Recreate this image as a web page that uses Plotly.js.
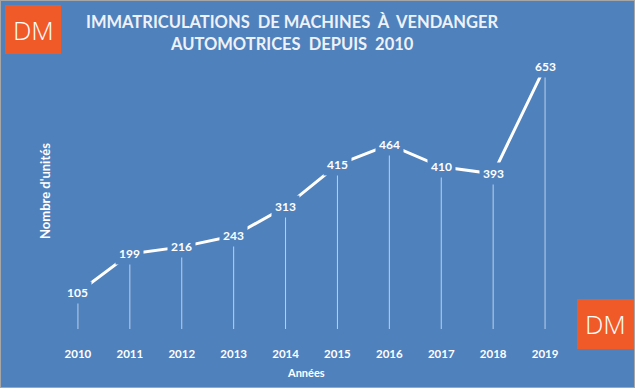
<!DOCTYPE html>
<html><head><meta charset="utf-8">
<script src="https://cdn.plot.ly/plotly-3.0.1.min.js"></script>
<style>html,body{margin:0;padding:0;background:#4f81bd;}#c{width:635px;height:388px;}
#b{position:absolute;left:0;top:0;width:633px;height:386px;border:1px solid #a6a6a6;pointer-events:none;}</style>
</head><body><div id="c"></div><div id="b"></div>
<script>
const years = [2010, 2011, 2012, 2013, 2014, 2015, 2016, 2017, 2018, 2019];
const units = [105, 199, 216, 243, 313, 415, 464, 410, 393, 653];
const titleLines = ["IMMATRICULATIONS  DE MACHINES  À  VENDANGER", "AUTOMOTRICES  DEPUIS  2010"];
const xTitle = "Années";
const yTitle = "Nombre d'unités";
const bg = "#4f81bd";
const fnt = "Lato, 'Noto Sans', sans-serif";

const L = 52, R = 64, T = 55, B = 59, W = 635, H = 388;
const pw = W - L - R, ph = H - T - B;
function px(x) { return (x - L) / pw; }
function py(y) { return (H - B - y) / ph; }

const dx = [], dy = [];
years.forEach((y, i) => { dx.push(y, y, null); dy.push(0, units[i], null); });

const traces = [
  {x: dx, y: dy, mode: 'lines', line: {color: 'rgba(225,235,248,0.75)', width: 1}, hoverinfo: 'skip'},
  {x: years, y: units, mode: 'lines', line: {color: '#ffffff', width: 3}}
];

const annotations = years.map((y, i) => ({
  x: y, y: units[i], xref: 'x', yref: 'y', text: '<b>' + units[i] + '</b>', showarrow: false,
  xanchor: 'center', yanchor: 'middle',
  font: {family: fnt, size: 12, color: '#ffffff'}, bgcolor: bg, borderpad: 3
}));
function note(x, y, text, size, color, extra) {
  return Object.assign({xref: 'paper', yref: 'paper', x: px(x), y: py(y), xanchor: 'center', yanchor: 'middle',
    showarrow: false, text: text, font: {family: fnt, size: size, color: color}}, extra || {});
}
annotations.push(
  note(292, 22, '<b>' + titleLines[0] + '</b>', 16.5, '#eef2f8'),
  note(292, 44, '<b>' + titleLines[1] + '</b>', 16.5, '#eef2f8'),
  note(306, 372, '<b>' + xTitle + '</b>', 11, '#ffffff'),
  note(45, 191, '<b>' + yTitle + '</b>', 13, '#ffffff', {textangle: -90}),
  note(33, 30, 'DM', 26, '#ffffff', {font: {family: "'Open Sans', sans-serif", size: 26, color: '#ffffff', weight: 300}}),
  note(605.5, 324, 'DM', 26, '#ffffff', {font: {family: "'Open Sans', sans-serif", size: 26, color: '#ffffff', weight: 300}})
);

const shapes = [
  {type: 'rect', xref: 'paper', yref: 'paper', x0: px(5), x1: px(61), y0: py(54), y1: py(5), fillcolor: '#f05a28', line: {width: 0}},
  {type: 'rect', xref: 'paper', yref: 'paper', x0: px(577), x1: px(634), y0: py(349), y1: py(299), fillcolor: '#f05a28', line: {width: 0}}
];

const layout = {
  width: W, height: H, margin: {l: L, r: R, t: T, b: B},
  paper_bgcolor: bg, plot_bgcolor: bg, showlegend: false,
  xaxis: {range: [2009.5, 2019.5], tickvals: years, ticktext: years.map(String), showgrid: false, zeroline: false, showline: false,
          ticks: 'outside', ticklen: 14, tickcolor: 'rgba(0,0,0,0)', tickfont: {family: fnt, size: 11.5, color: '#ffffff', weight: 'bold'}},
  yaxis: {range: [17, 681], showgrid: false, zeroline: false, showticklabels: false, ticks: ''},
  annotations: annotations, shapes: shapes
};
Plotly.newPlot('c', traces, layout, {displayModeBar: false, staticPlot: true});
</script></body></html>
